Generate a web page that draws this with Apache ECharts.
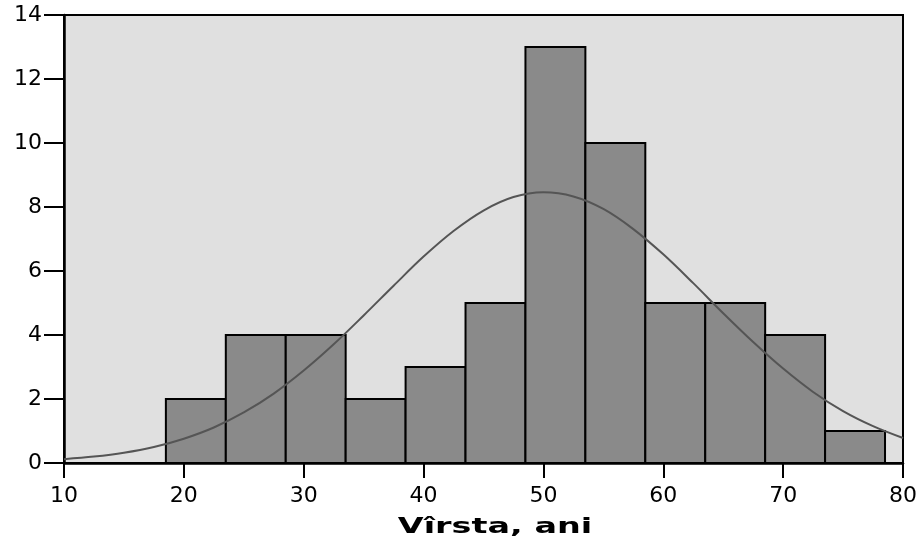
<!DOCTYPE html>
<html>
<head>
<meta charset="utf-8">
<script src="https://cdn.jsdelivr.net/npm/echarts@6/dist/echarts.min.js"></script>
<style>
  html, body { margin: 0; padding: 0; background: #fff; }
  #chart { width: 920px; height: 541px; }
</style>
</head>
<body>
<div id="chart"></div>
<script>
  // histogram bins (age, years) and counts
  const binStart = [18.5, 23.5, 28.5, 33.5, 38.5, 43.5, 48.5, 53.5, 58.5, 63.5, 68.5, 73.5];
  const binWidth = 5;
  const counts = [2, 4, 4, 2, 3, 5, 13, 10, 5, 5, 4, 1];

  // normal curve, values
  const curveX = [10, 12.5, 15, 17.5, 20, 22.5, 25, 27.5, 30, 32.5, 35, 37.5, 40, 42.5, 45,
    47.5, 50, 52.5, 55, 57.5, 60, 62.5, 65, 67.5, 70, 72.5, 75, 77.5, 80];
  const curveY = [0.12, 0.2, 0.32, 0.5, 0.76, 1.11, 1.58, 2.17, 2.89, 3.71, 4.61, 5.54, 6.45, 7.25, 7.89,
    8.31, 8.46, 8.33, 7.94, 7.31, 6.52, 5.62, 4.68, 3.78, 2.95, 2.22, 1.62, 1.15, 0.78];

  const xTicks = [10, 20, 30, 40, 50, 60, 70, 80];
  const yTicks = [0, 2, 4, 6, 8, 10, 12, 14];
  const xTitle = 'Vîrsta, ani';

  const font = '"DejaVu Sans", Verdana, sans-serif';

  let myChart = echarts.init(document.getElementById('chart'));

  let barData = binStart.map((s, i) => [s, s + binWidth, counts[i]]);
  let lineData = curveX.map((x, i) => [x, curveY[i]]);

  myChart.setOption({
    animation: false,
    grid: {
      left: 64, right: 17, top: 15, bottom: 78,
      show: true,
      backgroundColor: '#e0e0e0',
      borderColor: '#000',
      borderWidth: 2
    },
    // axis title, stretched wide like the original
    graphic: [{
      type: 'text',
      x: 495, y: 527,
      scaleX: 1.52,
      style: {
        text: xTitle,
        font: 'bold 22px ' + font,
        fill: '#000',
        textAlign: 'center',
        textVerticalAlign: 'middle'
      }
    }],
    xAxis: {
      type: 'value',
      min: xTicks[0],
      max: xTicks[xTicks.length - 1],
      interval: 10,
      axisLine: { lineStyle: { color: '#000', width: 2.5 } },
      axisTick: { show: true, length: 15, lineStyle: { color: '#000', width: 2 } },
      axisLabel: { fontFamily: font, fontSize: 22, color: '#000', margin: 22 },
      splitLine: { show: false }
    },
    yAxis: {
      type: 'value',
      min: yTicks[0],
      max: yTicks[yTicks.length - 1],
      interval: 2,
      axisLine: { show: true, lineStyle: { color: '#000', width: 2.5 } },
      axisTick: { show: true, length: 20, lineStyle: { color: '#000', width: 2 } },
      axisLabel: { fontFamily: font, fontSize: 22, color: '#000', margin: 22 },
      splitLine: { show: false }
    },
    series: [{
      name: 'bars',
      type: 'custom',
      data: barData,
      encode: { x: [0, 1], y: 2 },
      renderItem: function (params, api) {
        let p0 = api.coord([api.value(0), api.value(2)]);
        let p1 = api.coord([api.value(1), 0]);
        return {
          type: 'rect',
          shape: { x: p0[0], y: p0[1], width: p1[0] - p0[0], height: p1[1] - p0[1] },
          style: { fill: '#8a8a8a', stroke: '#000', lineWidth: 2 }
        };
      },
      z: 2
    }, {
      name: 'normal',
      type: 'line',
      data: lineData,
      smooth: 0.35,
      showSymbol: false,
      lineStyle: { color: '#555', width: 2 },
      z: 3
    }]
  });
</script>
</body>
</html>
